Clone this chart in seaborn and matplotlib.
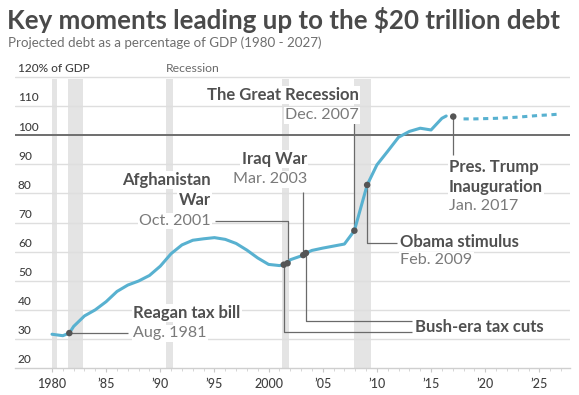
import numpy as np
import pandas as pd
import matplotlib
matplotlib.use("Agg")
import matplotlib.pyplot as plt
import matplotlib.transforms as mtransforms
import seaborn as sns

# ---------------- data ----------------
years = [1980, 1981, 1981.6, 1982, 1983, 1984, 1985, 1986, 1987, 1988, 1989,
         1990, 1991, 1992, 1993, 1994, 1995, 1996, 1997, 1998, 1999, 2000,
         2001, 2001.4, 2001.75, 2002, 2003, 2003.2, 2003.45, 2004, 2005, 2006,
         2007, 2007.92, 2009.1, 2010, 2011, 2012, 2013, 2014, 2015, 2016, 2016.4]
debt = [31.6, 31.1, 32.0, 34.3, 37.9, 40.0, 42.8, 46.3, 48.5, 49.9, 51.8,
        55.0, 59.3, 62.3, 63.9, 64.4, 64.8, 64.2, 62.8, 60.5, 57.8, 55.6,
        55.2, 55.5, 56.0, 57.2, 58.5, 58.8, 59.5, 60.4, 61.2, 61.9,
        62.6, 67.2, 82.9, 89.8, 94.5, 99.3, 101.3, 102.4, 101.8, 105.8, 106.6]

proj_years = [2018, 2019, 2020, 2021, 2022, 2023, 2024, 2025, 2026, 2027]
proj_debt = [105.6, 105.6, 105.7, 105.8, 106.0, 106.2, 106.5, 106.8, 107.0, 107.3]

event_years = [1981.6, 2001.4, 2001.75, 2003.2, 2003.45, 2007.92, 2009.1, 2017.05]
event_debt = [32.0, 55.5, 56.0, 58.8, 59.5, 67.2, 82.9, 106.4]

recession_start = [1980.0, 1981.5, 1990.55, 2001.2, 2007.92]
recession_end = [1980.5, 1982.9, 1991.2, 2001.85, 2009.45]

yticks = [20, 30, 40, 50, 60, 70, 80, 90, 100, 110, 120]
ytick_labels = ["20", "30", "40", "50", "60", "70", "80", "90", "100", "110", "120% of GDP"]
xticks = [1980, 1985, 1990, 1995, 2000, 2005, 2010, 2015, 2020, 2025]
xtick_labels = ["1980", "\u201985", "\u201990", "\u201995", "2000", "\u201905", "\u201910",
                "\u201915", "\u201920", "\u201925"]

title = "Key moments leading up to the $20 trillion debt"
subtitle = "Projected debt as a percentage of GDP (1980 - 2027)"

# ---------------- style ----------------
sns.set_theme(style="white")
plt.rcParams["font.family"] = ["Lato", "DejaVu Sans"]

W, H = 579, 395
fig = plt.figure(figsize=(W / 100, H / 100), dpi=100)

# axes geometry in pixels
px_left, px_right = 15, 570
px_y20, px_y120 = 368, 77
x1980_px, px_per_year = 52, 10.83
xmin = 1980 - (x1980_px - px_left) / px_per_year
xmax = 1980 + (px_right - x1980_px) / px_per_year
ppu = (px_y20 - px_y120) / 100.0
ytop = 122
top_px = px_y20 - (ytop - 20) * ppu
ax = fig.add_axes([px_left / W, 1 - px_y20 / H, (px_right - px_left) / W, (px_y20 - top_px) / H])
ax.set_xlim(xmin, xmax)
ax.set_ylim(20, ytop)

LINE = "#58b1d0"
DARK = "#505050"
DATE = "#7a7a7a"
CONN = "#6a6a6a"

for s in ["top", "right", "left"]:
    ax.spines[s].set_visible(False)
ax.spines["bottom"].set_color("#cfcfcf")
ax.spines["bottom"].set_linewidth(1)

# recession bands
for a, b in zip(recession_start, recession_end):
    ax.axvspan(a, b, ymin=0, ymax=(119.3 - 20) / (ytop - 20), color="#e4e4e4", lw=0, zorder=0)

# gridlines
for v in yticks[1:]:
    if v == 100:
        ax.axhline(v, color="#6e6e6e", lw=1.4, zorder=1)
    else:
        ax.axhline(v, color="#dedede", lw=1.0, zorder=0.5)

# y labels (above gridlines, inside plot)
ax.set_yticks(yticks)
ax.tick_params(axis="y", length=0, labelleft=False)
trans_y = mtransforms.blended_transform_factory(ax.transAxes, ax.transData)
for v, lab in zip(yticks, ytick_labels):
    ax.text(3 / (px_right - px_left), v + 0.9, lab, transform=trans_y, ha="left", va="bottom",
            fontsize=8.6, color="#404040", fontweight="medium", zorder=2)
ax.text(1990.55, 120 + 0.9, "Recession", ha="left", va="bottom", fontsize=8.8, color="#6a6a6a", zorder=2)

# x ticks
ax.set_xticks(xticks)
ax.set_xticklabels(xtick_labels)
ax.set_xticks(np.arange(1980, 2028, 1), minor=True)
ax.tick_params(axis="x", which="major", length=3, width=0.8, color="#c8c8c8", pad=4,
               labelsize=9, labelcolor="#404040", direction="out", bottom=True)
ax.tick_params(axis="x", which="minor", length=2, width=0.6, color="#d0d0d0", direction="out", bottom=True)
for t in ax.get_xticklabels():
    t.set_fontweight("medium")

# lines
sns.lineplot(x=years, y=debt, ax=ax, color=LINE, lw=2.2, zorder=4, sort=False)
sns.lineplot(x=proj_years, y=proj_debt, ax=ax, color=LINE, lw=2.2, zorder=4)
ax.lines[-1].set_dashes((1.7, 1.5))

# connectors (data coords)
def conn(xs, ys):
    ax.plot(xs, ys, color=CONN, lw=0.9, zorder=3, solid_capstyle="butt")

conn([1981.6, 1987.0], [32.0, 32.0])                                  # Reagan
conn([2001.75, 2001.75, 1995.05], [56.0, 70.5, 70.5])               # Afghanistan
conn([2003.2, 2003.2], [58.8, 80.5])                                # Iraq
conn([2007.92, 2007.92], [67.2, 104.2])                             # Great Recession
conn([2009.1, 2009.1, 2011.85], [82.9, 63.0, 63.0])                 # Obama
conn([2001.4, 2001.4, 2013.24], [55.5, 32.4, 32.4])                 # Bush 2001
conn([2003.45, 2003.45, 2013.24], [59.5, 36.2, 36.2])               # Bush 2003
conn([2017.05, 2017.05], [106.4, 93.2])                             # Trump

sns.scatterplot(x=event_years, y=event_debt, ax=ax, color="#555555", s=22,
                edgecolor="none", zorder=5)

# annotation text
box = dict(facecolor="white", edgecolor="none", pad=1.0)
BFS = 12.0
DFS = 11.6

def btxt(x, y, s, ha):
    ax.text(x, y, s, ha=ha, va="center", fontsize=BFS, fontweight="bold", color=DARK, bbox=box, zorder=3.5)

def dtxt(x, y, s, ha):
    ax.text(x, y, s, ha=ha, va="center", fontsize=DFS, color=DATE, bbox=box, zorder=3.5)

btxt(1987.5, 38.9, "Reagan tax bill", "left")
dtxt(1987.5, 32.0, "Aug. 1981", "left")

btxt(1994.65, 84.6, "Afghanistan", "right")
btxt(1994.65, 77.7, "War", "right")
dtxt(1994.65, 70.5, "Oct. 2001", "right")

btxt(2003.55, 91.8, "Iraq War", "right")
dtxt(2003.55, 84.9, "Mar. 2003", "right")

btxt(2008.35, 113.8, "The Great Recession", "right")
dtxt(2008.35, 106.9, "Dec. 2007", "right")

btxt(2012.13, 63.4, "Obama stimulus", "left")
dtxt(2012.13, 57.1, "Feb. 2009", "left")

btxt(2013.5, 34.2, "Bush-era tax cuts", "left")

btxt(2016.66, 89.1, "Pres. Trump", "left")
btxt(2016.66, 82.2, "Inauguration", "left")
dtxt(2016.66, 75.8, "Jan. 2017", "left")

ax.set_xlabel("")
ax.set_ylabel("")

# titles
fig.text(7 / W, 1 - 20 / H, title, ha="left", va="center", fontsize=18.6, fontweight="bold", color="#4a4a4a")
fig.text(8 / W, 1 - 43 / H, subtitle, ha="left", va="center", fontsize=9.6, color="#6e6e6e")

fig.savefig("out.png", dpi=100, facecolor="white")
